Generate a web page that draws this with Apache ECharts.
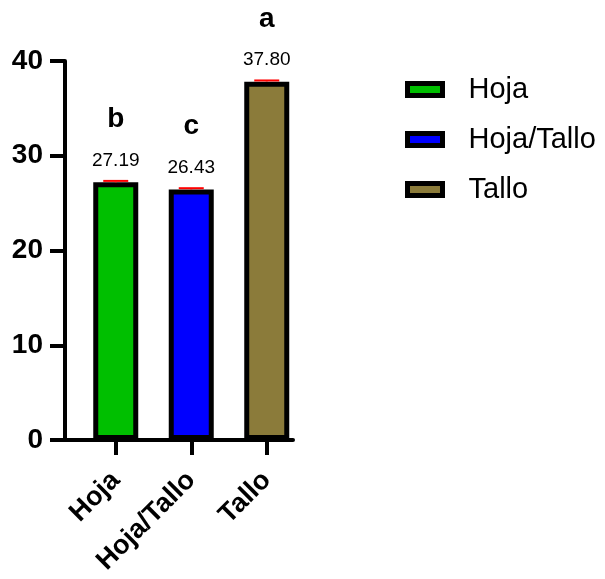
<!DOCTYPE html>
<html>
<head>
<meta charset="utf-8">
<script src="https://cdn.jsdelivr.net/npm/echarts@6/dist/echarts.min.js"></script>
<style>html,body{margin:0;padding:0;background:#fff;}#c{width:605px;height:579px;}</style>
</head>
<body>
<div id="c"></div>
<script>
const categories = ['Hoja', 'Hoja/Tallo', 'Tallo'];
const means = [27.19, 26.43, 37.80];
const errors = [0.05, 0.04, 0.04];
const letters = ['b', 'c', 'a'];
const colors = ['#00bf00', '#0000ff', '#8b7b3a'];
const yMin = 0, yMax = 40, yInterval = 10;

const FONT = '"Liberation Sans", Arial, sans-serif';
const chart = echarts.init(document.getElementById('c'), null, {renderer: 'canvas'});

const barSeries = categories.map((name, i) => ({
  name: name,
  type: 'bar',
  stack: 'all',
  xAxisIndex: 0,
  yAxisIndex: 0,
  barWidth: 45,
  data: means.map((v, j) => (j === i ? v : '-')),
  itemStyle: {color: colors[i], borderColor: '#000', borderWidth: 5},
  label: {
    show: true,
    position: 'top',
    distance: 12,
    formatter: p => '{l|' + letters[p.dataIndex] + '}\n{v|' + means[p.dataIndex].toFixed(2) + '}',
    rich: {
      l: {fontSize: 28, fontWeight: 'bold', color: '#000', fontFamily: FONT, lineHeight: 62},
      v: {fontSize: 19, color: '#000', fontFamily: FONT, lineHeight: 20}
    }
  },
  z: 2
}));

const errSeries = {
  type: 'custom',
  xAxisIndex: 0,
  yAxisIndex: 0,
  data: means.map((m, i) => [i, m, errors[i]]),
  renderItem: (params, api) => {
    const x = api.value(0), m = api.value(1), e = api.value(2);
    const top = api.coord([x, m + e]);
    const base = api.coord([x, m]);
    const hw = 12.5;
    return {
      type: 'group',
      children: [
        {type: 'line', shape: {x1: top[0] - hw, y1: top[1] - 1, x2: top[0] + hw, y2: top[1] - 1}, style: {stroke: '#ff0000', lineWidth: 2}},
        {type: 'line', shape: {x1: base[0], y1: base[1], x2: top[0], y2: top[1]}, style: {stroke: '#ff0000', lineWidth: 2}}
      ]
    };
  },
  z: 5,
  silent: true
};

const option = {
  backgroundColor: '#fff',
  animation: false,
  grid: [
    {left: 78, width: 226.5, top: 61, bottom: 139},
    {left: 65, width: 228, top: 61, bottom: 139}
  ],
  legend: {
    data: categories,
    orient: 'vertical',
    left: 400,
    top: 70,
    itemWidth: 35,
    itemHeight: 12,
    itemGap: 21,
    icon: 'rect',
    itemStyle: {borderColor: '#000', borderWidth: 5},
    textStyle: {fontSize: 29, color: '#000', fontFamily: FONT, padding: [0, 0, 0, 21]}
  },
  xAxis: [
    {
      type: 'category',
      gridIndex: 0,
      data: categories,
      axisLine: {show: false},
      axisTick: {show: true, alignWithLabel: true, length: 15, lineStyle: {color: '#000', width: 4}},
      axisLabel: {rotate: 45, margin: 36, fontSize: 27, fontWeight: 'bold', color: '#000', fontFamily: FONT},
      splitLine: {show: false}
    },
    {
      type: 'value',
      gridIndex: 1,
      min: 0, max: 1,
      axisLine: {show: true, lineStyle: {color: '#000', width: 4}},
      axisTick: {show: false},
      axisLabel: {show: false},
      splitLine: {show: false}
    }
  ],
  yAxis: [
    {
      type: 'value',
      gridIndex: 0,
      min: yMin, max: yMax, interval: yInterval,
      offset: 13,
      axisLine: {show: true, lineStyle: {color: '#000', width: 4}},
      axisTick: {show: true, length: 15, lineStyle: {color: '#000', width: 4}},
      axisLabel: {margin: 22, fontSize: 28, fontWeight: 'bold', color: '#000', fontFamily: FONT},
      splitLine: {show: false}
    },
    {
      type: 'value',
      gridIndex: 1,
      min: 0, max: 1,
      show: false
    }
  ],
  series: barSeries.concat([errSeries])
};
chart.setOption(option);
</script>
</body>
</html>
